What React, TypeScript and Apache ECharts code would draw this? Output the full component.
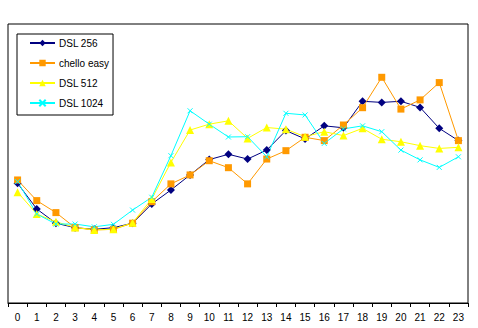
import React, { useEffect, useRef } from "react";
import * as echarts from "echarts";

const hours = ["0","1","2","3","4","5","6","7","8","9","10","11","12","13","14","15","16","17","18","19","20","21","22","23"];
const dsl256 = [42.9,33.7,28.6,27.0,26.4,27.0,28.6,35.5,40.5,45.9,51.4,53.3,51.6,54.8,61.8,58.8,63.5,62.8,72.3,71.9,72.3,70.1,62.6,58.2];
const chelloEasy = [44.1,36.7,32.4,27.0,26.2,26.4,28.6,36.3,42.7,45.9,51.0,48.5,42.7,51.6,54.6,59.4,58.2,63.8,70.0,80.9,69.5,72.8,79.0,58.2];
const dsl512 = [39.7,31.9,29.1,27.1,26.2,26.4,28.8,37.3,50.4,62.0,64.1,65.3,59.0,62.9,62.3,59.6,61.4,60.0,62.6,58.7,57.8,56.4,55.4,55.8];
const dsl1024 = [43.5,31.9,28.3,28.3,27.3,28.2,33.3,37.9,52.8,68.9,64.1,59.5,59.6,52.4,68.0,67.4,57.2,62.4,63.5,61.4,54.8,51.3,48.6,52.4];

const FONT = "Liberation Sans";

export default function App() {
  const ref = useRef<HTMLDivElement>(null);
  useEffect(() => {
    if (!ref.current) return;
    const chart = echarts.init(ref.current, null, { renderer: "svg" });
    const mk = (name: string, data: number[], color: string, symbol: string, size: number, extra: any = {}) => ({
      name,
      type: "line",
      data,
      symbol,
      symbolSize: size,
      showSymbol: true,
      lineStyle: { color, width: 1 },
      itemStyle: { color, ...extra },
      emphasis: { disabled: true },
    });
    chart.setOption({
      animation: false,
      backgroundColor: "#ffffff",
      grid: {
        left: 8,
        top: 24,
        width: 460,
        height: 279,
        show: true,
        borderColor: "#000000",
        borderWidth: 1,
        backgroundColor: "transparent",
      },
      legend: {
        orient: "vertical",
        left: 17,
        top: 34,
        padding: [3, 4, 6, 12],
        itemGap: 8,
        itemWidth: 25,
        itemHeight: 8,
        backgroundColor: "#ffffff",
        borderColor: "#000000",
        borderWidth: 1,
        textStyle: { fontFamily: FONT, fontSize: 10, color: "#000000", lineHeight: 12, padding: [0, 0, 0, -1] },
        data: ["DSL 256", "chello easy", "DSL 512", "DSL 1024"],
      },
      xAxis: {
        type: "category",
        data: hours,
        boundaryGap: true,
        axisLine: { lineStyle: { color: "#000000", width: 1 } },
        axisTick: { show: true, length: 4, lineStyle: { color: "#000000" }, alignWithLabel: false },
        axisLabel: { fontFamily: FONT, fontSize: 10, color: "#000000", margin: 9, interval: 0 },
        splitLine: { show: false },
      },
      yAxis: {
        type: "value",
        min: 0,
        max: 100,
        show: false,
        splitLine: { show: false },
      },
      series: [
        mk("DSL 256", dsl256, "#000080", "diamond", 8),
        mk("chello easy", chelloEasy, "#FF9900", "rect", 7),
        mk("DSL 512", dsl512, "#FFFF00", "triangle", 8),
        mk("DSL 1024", dsl1024, "#00FFFF", "path://M0,0L10,10M10,0L0,10", 5, {
          borderColor: "#00FFFF",
          borderWidth: 1,
        }),
      ],
    });
    return () => chart.dispose();
  }, []);
  return (
    <div
      ref={ref}
      style={{ position: "absolute", left: 0, top: 0, width: 478, height: 328, background: "#fff" }}
    />
  );
}
